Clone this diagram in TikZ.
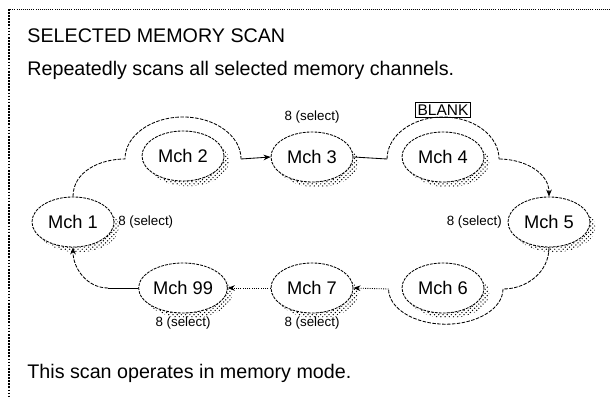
\documentclass[tikz,border=0pt]{standalone}
\usepackage{fontspec}
\setmainfont{Liberation Sans}
\usetikzlibrary{arrows.meta, positioning, shapes.geometric, patterns, shadows}

\begin{document}
\begin{tikzpicture}[
    x=0.025cm, y=0.025cm,
    >={Stealth[length=5pt, width=4pt]},
    line width=0.6pt,
    mch/.style={ellipse, draw, dash pattern=on 2pt off 0.8pt, fill=white,
                minimum width=2.05cm, minimum height=1.25cm, inner sep=1pt,
                font=\fontsize{13}{15}\selectfont,
                drop shadow={shadow xshift=0.13cm, shadow yshift=-0.13cm,
                             opacity=1, pattern=crosshatch dots}},
    sellbl/.style={font=\fontsize{9.5}{11}\selectfont, inner sep=1pt},
    txtline/.style={anchor=west, inner sep=0pt, font=\fontsize{14}{16}\selectfont},
    hoop/.style={dash pattern=on 2.5pt off 1pt},
    skipline/.style={densely dotted}
  ]
  \useasboundingbox (0,0) rectangle (610,399);
  % frame
  \draw[densely dotted, line width=0.5pt] (610,390) -- (9,390);
  \draw[densely dotted, line width=1.2pt] (9,390) -- (9,0);

  % texts
  \node[txtline] (title) at (27,363) {SELECTED MEMORY SCAN};
  \node[txtline] (intro) at (27,329) {Repeatedly scans all selected memory channels.};
  \node[txtline] (note) at (27,26) {This scan operates in memory mode.};

  % channels
  \node[mch] (m1) at (73,177) {Mch 1};
  \node[mch] (m2) at (183,243) {Mch 2};
  \node[mch] (m3) at (312,242) {Mch 3};
  \node[mch] (m4) at (443,242) {Mch 4};
  \node[mch] (m5) at (549,177) {Mch 5};
  \node[mch] (m6) at (443,111) {Mch 6};
  \node[mch] (m7) at (312,111) {Mch 7};
  \node[mch] (m99) at (183,111) {Mch 99};

  % select marks
  \node[sellbl, above=0.15cm of m3] (s3) {8 (select)};
  \node[sellbl, right=0.05cm of m1] (s1) {8 (select)};
  \node[sellbl, left=0.1cm of m5] (s5) {8 (select)};
  \node[sellbl, below=0.05cm of m99] (s99) {8 (select)};
  \node[sellbl, below=0.05cm of m7] (s7) {8 (select)};
  \node[draw, inner sep=1.5pt, font=\fontsize{11}{13}\selectfont,
        above=0.35cm of m4] (blank) {BLANK};

  % scan path
  \coordinate (h2l) at (125,240);
  \coordinate (h4l) at (387,240);
  \coordinate (h6r) at (503,110);
  \coordinate (b99) at (108,111);

  \draw[hoop] (m1.north) to[out=90, in=180] (h2l)
    arc[start angle=180, end angle=0, x radius=1.45cm, y radius=1.05cm] coordinate (h2r);
  \draw[->] (h2r) -- (m3.west);
  \draw (m3.east) -- (h4l);
  \draw[hoop] (h4l)
    arc[start angle=180, end angle=0, x radius=1.4cm, y radius=1.05cm] coordinate (h4r);
  \draw[hoop, ->] (h4r) to[out=0, in=90] (m5.north);
  \draw[hoop] (m5.south) to[out=-90, in=0] (h6r);
  \draw[hoop] (h6r)
    arc[start angle=0, end angle=-180, x radius=1.43cm, y radius=0.88cm] coordinate (h6l);
  \draw[skipline, ->] (h6l) -- (m7.east);
  \draw[skipline, ->] (m7.west) -- (m99.east);
  \draw (m99.west) -- (b99);
  \draw[hoop, ->] (b99) to[out=180, in=-90] (m1.south);
\end{tikzpicture}
\end{document}
